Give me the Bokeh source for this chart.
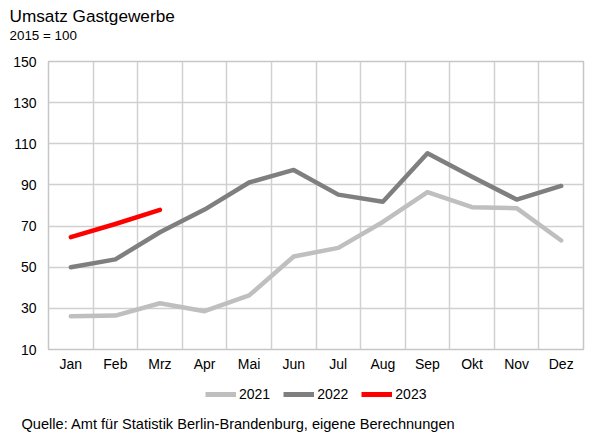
from bokeh.plotting import figure
from bokeh.layouts import column
from bokeh.models import Range1d, FixedTicker, Title, Legend, LegendItem
from bokeh.embed import file_html
from bokeh.resources import INLINE

months = ["Jan", "Feb", "Mrz", "Apr", "Mai", "Jun", "Jul", "Aug", "Sep", "Okt", "Nov", "Dez"]
y2021 = [26.2, 26.5, 32.5, 28.6, 36.3, 55.2, 59.4, 72.0, 86.5, 79.2, 78.7, 63.0]
y2022 = [50.0, 53.8, 67.0, 78.0, 91.2, 97.3, 85.3, 81.8, 105.4, 94.0, 82.9, 89.5]
y2023 = [64.6, 71.0, 77.9]
y_ticks = [10, 30, 50, 70, 90, 110, 130, 150]
series_names = ["2021", "2022", "2023"]
series_colors = ["#bfbfbf", "#7f7f7f", "#ff0000"]
title_text = "Umsatz Gastgewerbe"
subtitle_text = "2015 = 100"
source_text = "Quelle: Amt für Statistik Berlin-Brandenburg, eigene Berechnungen"

FONT = "Liberation Sans"
W = 616
LEFT, RIGHT = 48, 33
x = list(range(len(months)))


def blank(height, top, bottom):
    f = figure(width=W, height=height, x_range=Range1d(0, 1), y_range=Range1d(0, 1),
               x_axis_type=None, y_axis_type=None,
               output_backend="svg", toolbar_location=None,
               min_border_left=LEFT, min_border_right=RIGHT,
               min_border_top=top, min_border_bottom=bottom)
    f.grid.visible = False
    f.outline_line_color = None
    f.background_fill_color = "white"
    f.border_fill_color = "white"
    return f


def title_obj(text, size, offset):
    return Title(text=text, text_font=FONT, text_font_size=size, text_font_style="normal",
                 text_color="black", align="left", offset=offset, standoff=0)


# --- header (title + subtitle)
top = blank(50, 42, 0)
top.add_layout(title_obj(subtitle_text, "13.4px", -39), "above")
top.add_layout(title_obj(title_text, "17.2px", -39), "above")

# --- main chart
p = figure(frame_width=535, frame_height=288, x_range=Range1d(-0.5, 11.5), y_range=Range1d(10, 150),
           output_backend="svg", toolbar_location=None,
           min_border_left=LEFT, min_border_right=RIGHT, min_border_top=11, min_border_bottom=32)
p.background_fill_color = "white"
p.border_fill_color = "white"
p.outline_line_color = "#c6c6c6"
p.outline_line_width = 1.5

p.xaxis.ticker = FixedTicker(ticks=x)
p.xaxis.major_label_overrides = {i: m for i, m in enumerate(months)}
p.yaxis.ticker = FixedTicker(ticks=y_ticks)
p.xgrid.ticker = FixedTicker(ticks=[i - 0.5 for i in range(len(months) + 1)])
p.ygrid.ticker = FixedTicker(ticks=y_ticks)
for g in (p.xgrid, p.ygrid):
    g.grid_line_color = "#d0d0d0"
    g.grid_line_width = 1.5
for ax in (p.xaxis, p.yaxis):
    ax.axis_line_color = None
    ax.major_tick_line_color = None
    ax.minor_tick_line_color = None
    ax.major_tick_out = 0
    ax.major_tick_in = 0
    ax.major_label_text_font = FONT
    ax.major_label_text_font_size = "14px"
    ax.major_label_text_color = "black"
p.yaxis.major_label_standoff = 12
p.xaxis.major_label_standoff = 6

for ys, c in zip([y2021, y2022, y2023], series_colors):
    p.line(x[:len(ys)], ys, line_color=c, line_width=4.5, line_cap="round", line_join="round")

# --- footer: legend + source
bot = blank(51, 0, 19)
items = []
for name, c in zip(series_names, series_colors):
    r = bot.line(x=[float("nan")], y=[float("nan")], line_color=c, line_width=5)
    items.append(LegendItem(label=name, renderers=[r]))
legend = Legend(items=items, orientation="horizontal", location=(157, 11),
                glyph_width=31, glyph_height=16, label_standoff=3, spacing=13,
                label_text_font=FONT, label_text_font_size="14px", label_text_color="black",
                border_line_color=None, background_fill_alpha=0, margin=0, padding=0)
bot.add_layout(legend)
bot.add_layout(title_obj(source_text, "14.6px", -27), "below")

layout = column(top, p, bot, spacing=0)
open("out.html", "w").write(file_html(layout, INLINE))
